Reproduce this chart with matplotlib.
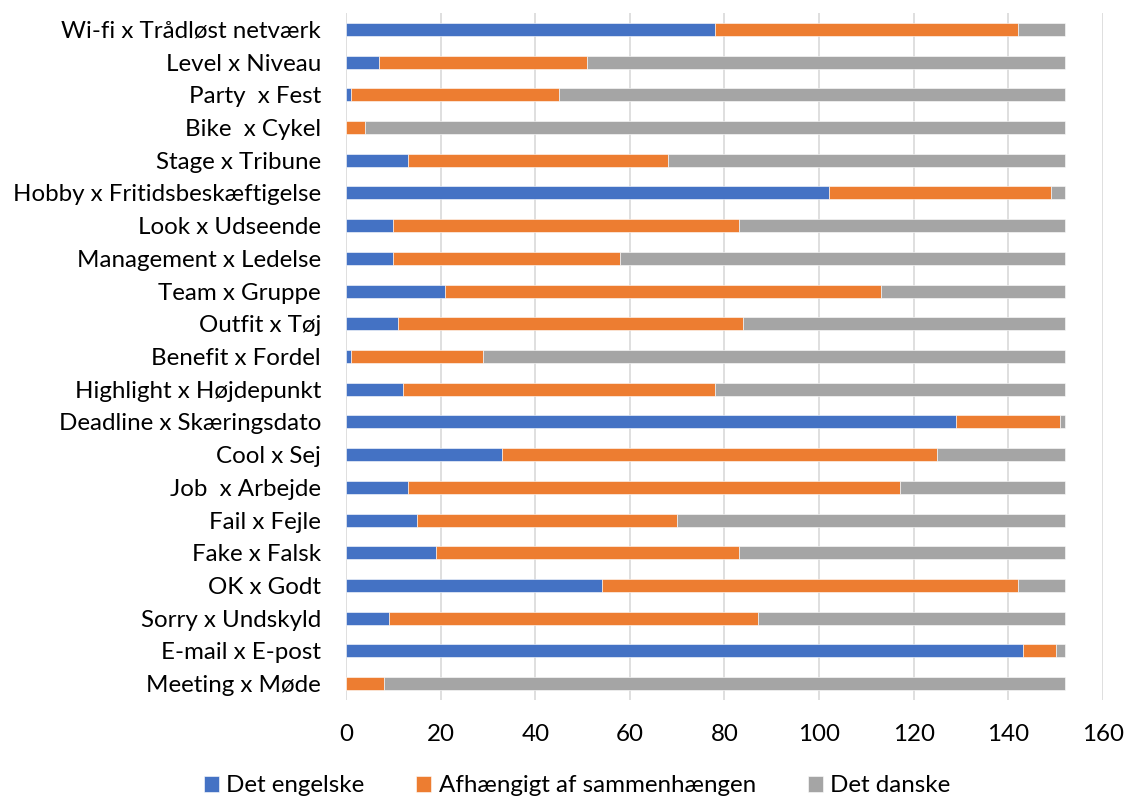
import matplotlib
matplotlib.use("Agg")
import matplotlib.pyplot as plt
import numpy as np

# word pairs, listed bottom to top
pairs = [
    "Meeting x Møde",
    "E-mail x E-post",
    "Sorry x Undskyld",
    "OK x Godt",
    "Fake x Falsk",
    "Fail x Fejle",
    "Job  x Arbejde",
    "Cool x Sej",
    "Deadline x Skæringsdato",
    "Highlight x Højdepunkt",
    "Benefit x Fordel",
    "Outfit x Tøj",
    "Team x Gruppe",
    "Management x Ledelse",
    "Look x Udseende",
    "Hobby x Fritidsbeskæftigelse",
    "Stage x Tribune",
    "Bike  x Cykel",
    "Party  x Fest",
    "Level x Niveau",
    "Wi-fi x Trådløst netværk",
]
engelske = [0, 143, 9, 54, 19, 15, 13, 33, 129, 12, 1, 11, 21, 10, 10, 102, 13, 0, 1, 7, 78]
afhaengigt = [8, 7, 78, 88, 64, 55, 104, 92, 22, 66, 28, 73, 92, 48, 73, 47, 55, 4, 44, 44, 64]
danske = [144, 2, 65, 10, 69, 82, 35, 27, 1, 74, 123, 68, 39, 94, 69, 3, 84, 148, 107, 101, 10]

series_names = ["Det engelske", "Afhængigt af sammenhængen", "Det danske"]
colors = ["#4472C4", "#ED7D31", "#A5A5A5"]

plt.rcParams["font.family"] = ["Lato", "DejaVu Sans"]

fig = plt.figure(figsize=(11.25, 8.01), dpi=100)
ax = fig.add_axes([0.3076, 0.1261, 0.6728, 0.8577])

y = np.arange(len(pairs))
left = np.zeros(len(pairs))
for vals, name, col in zip([engelske, afhaengigt, danske], series_names, colors):
    ax.barh(y, vals, left=left, height=0.4, color=col, label=name,
            edgecolor="white", linewidth=0.4, zorder=3)
    left += np.asarray(vals)

ax.set_xlim(0, 160)
ax.set_ylim(-0.5, len(pairs) - 0.5)
ax.set_xticks(np.arange(0, 161, 20))
ax.set_yticks(y)
ax.set_yticklabels(pairs)
ax.tick_params(axis="both", length=0, labelsize=17.4, colors="black")
ax.tick_params(axis="x", pad=17)
ax.tick_params(axis="y", pad=18)
ax.grid(axis="x", color="#d9d9d9", linewidth=1.2, zorder=0)
for s in ax.spines.values():
    s.set_visible(False)

fig.legend(loc="center", bbox_to_anchor=(0.513, 0.019), ncol=3, frameon=False,
           fontsize=17.4, handlelength=0.62, handleheight=0.62, handletextpad=0.3,
           columnspacing=2.15, borderaxespad=0)

fig.savefig("out.png", dpi=100)
